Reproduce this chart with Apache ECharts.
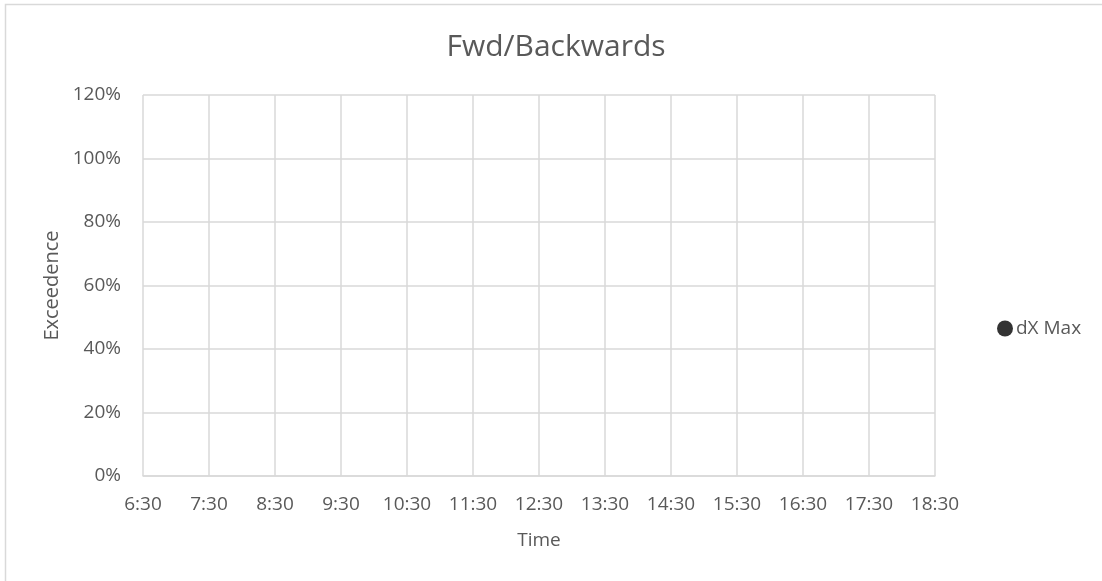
<!DOCTYPE html>
<html>
<head>
<meta charset="utf-8">
<script src="https://cdn.jsdelivr.net/npm/echarts@6/dist/echarts.min.js"></script>
<style>
  html, body { margin: 0; padding: 0; background: #fff; }
  #main { width: 1102px; height: 581px; }
</style>
</head>
<body>
<div id="main"></div>
<script>
// tick labels of the x axis (time of day)
var timeLabels = ['6:30', '7:30', '8:30', '9:30', '10:30', '11:30', '12:30',
                  '13:30', '14:30', '15:30', '16:30', '17:30', '18:30'];
// y axis ticks (fraction)
var yMin = 0, yMax = 1.2, yStep = 0.2;
// the one series - no points are plotted in the picture
var seriesName = 'dX Max';
var dxMax = [];

var textColor = '#595959';
var gridColor = '#d9d9d9';
var fontFam = 'Open Sans, Liberation Sans, sans-serif';

var chart = echarts.init(document.getElementById('main'));

var option = {
    animation: false,
    graphic: [{
        type: 'rect',
        shape: { x: 5.5, y: 4.5, width: 1300, height: 800 },
        style: { fill: 'none', stroke: gridColor, lineWidth: 1.5 },
        silent: true
    }],
    title: {
        text: 'Fwd/Backwards',
        left: 551,
        top: 27,
        textAlign: 'center',
        textStyle: { fontSize: 30, fontWeight: 'normal', color: textColor, fontFamily: fontFam }
    },
    legend: {
        data: [{ name: seriesName, icon: 'circle' }],
        left: 992,
        top: 314,
        itemWidth: 16,
        itemHeight: 16,
        itemGap: 4,
        textStyle: { fontSize: 19, color: textColor, fontFamily: fontFam, padding: [0, 0, 0, -2] }
    },
    grid: {
        left: 143,
        right: 167,
        top: 95,
        bottom: 105,
        containLabel: false
    },
    xAxis: {
        type: 'category',
        boundaryGap: false,
        data: timeLabels,
        name: 'Time',
        nameLocation: 'middle',
        nameGap: 55,
        nameTextStyle: { fontSize: 19, color: textColor, fontFamily: fontFam },
        axisLine: { show: true, lineStyle: { color: gridColor, width: 1.5 } },
        axisTick: { show: false },
        axisLabel: { fontSize: 19, color: textColor, fontFamily: fontFam, margin: 19, interval: 0 },
        splitLine: { show: true, interval: 0, lineStyle: { color: gridColor, width: 1.5 } }
    },
    yAxis: {
        type: 'value',
        min: yMin,
        max: yMax,
        interval: yStep,
        name: 'Exceedence',
        nameLocation: 'middle',
        nameRotate: 90,
        nameGap: 80,
        nameTextStyle: { fontSize: 20, color: textColor, fontFamily: fontFam },
        axisLine: { show: false },
        axisTick: { show: false },
        axisLabel: {
            fontSize: 19, color: textColor, fontFamily: fontFam, margin: 22,
            formatter: function (v) { return Math.round(v * 100) + '%'; }
        },
        splitLine: { show: true, lineStyle: { color: gridColor, width: 1.5 } }
    },
    series: [{
        name: seriesName,
        type: 'scatter',
        symbol: 'circle',
        symbolSize: 8,
        itemStyle: { color: '#000000' },
        data: dxMax
    }]
};
chart.setOption(option);
</script>
</body>
</html>
